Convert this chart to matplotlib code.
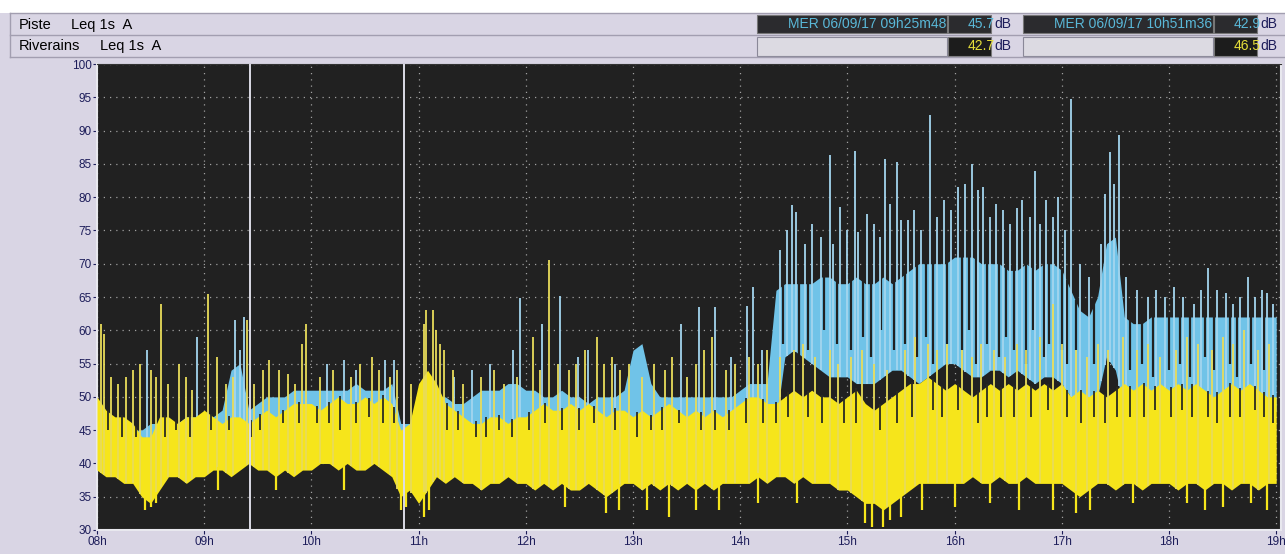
import numpy as np
import matplotlib.pyplot as plt
import matplotlib.patches as patches

# ---------- data (Leq 1s A, dB) ----------
# 5-minute envelope points from 08:00 to 19:00 (133 points)
# "Riverains" (yellow): bottom and top of the dense band
riv_lo = [39, 38, 38, 37, 37, 35, 34, 36, 38, 38, 37, 38,
          38, 39, 39, 38, 39, 40, 39, 39, 38, 39, 38, 39,
          39, 40, 40, 39, 40, 39, 39, 40, 39, 38, 35, 36,
          34, 36, 38, 37, 38, 37, 37, 36, 37, 37, 38, 37,
          37, 36, 37, 36, 37, 36, 36, 37, 36, 35, 36, 37,
          37, 36, 37, 36, 37, 36, 37, 36, 37, 36, 37, 37,
          37, 37, 38, 37, 38, 38, 37, 38, 37, 37, 37, 36,
          36, 35, 34, 34, 33, 34, 35, 36, 37, 37, 37, 37,
          37, 37, 38, 37, 37, 38, 37, 37, 38, 37, 37, 37,
          37, 36, 35, 36, 37, 37, 36, 37, 37, 36, 37, 37,
          37, 36, 37, 37, 36, 37, 37, 36, 37, 37, 36, 37, 37]
riv_hi = [50, 48, 47, 47, 46, 44, 44, 47, 47, 46, 47, 47,
          48, 47, 46, 47, 47, 46, 47, 48, 47, 48, 49, 49,
          49, 48, 49, 50, 49, 49, 50, 49, 50, 49, 45, 46,
          52, 54, 52, 49, 48, 47, 46, 46, 47, 47, 46, 47,
          47, 48, 49, 48, 48, 49, 48, 49, 48, 47, 48, 48,
          47, 48, 47, 48, 49, 48, 47, 48, 47, 48, 47, 48,
          49, 50, 50, 49, 49, 50, 51, 50, 51, 50, 50, 49,
          50, 51, 49, 48, 49, 50, 51, 52, 52, 53, 52, 51,
          52, 51, 50, 51, 52, 51, 52, 51, 52, 51, 52, 51,
          52, 50, 51, 50, 51, 50, 51, 52, 51, 52, 51, 52,
          51, 52, 51, 52, 51, 50, 51, 52, 51, 52, 51, 50, 50]
# "Piste" (cyan)
pis_lo = [40] * 72 + \
         [40, 40, 40, 40, 46, 56, 57, 56, 55, 54, 53, 53,
          53, 52, 52, 52, 53, 54, 54, 53, 52, 53, 54, 55,
          55, 54, 53, 53, 54, 54, 53, 54, 53, 52, 53, 53,
          52, 50, 48, 48, 50, 56, 54, 48, 48, 48, 48, 48,
          48, 48, 48, 48, 48, 48, 48, 48, 48, 48, 48, 48, 48]
pis_hi = [47, 46, 46, 46, 45, 45, 46, 46, 46, 46, 47, 47,
          47, 47, 48, 54, 55, 48, 49, 50, 50, 50, 51, 51,
          51, 51, 51, 51, 51, 52, 51, 51, 51, 52, 46, 46,
          48, 50, 50, 50, 49, 49, 50, 51, 51, 51, 52, 52,
          51, 51, 50, 50, 51, 50, 50, 49, 50, 50, 50, 51,
          57, 58, 52, 50, 50, 50, 50, 50, 50, 50, 50, 50,
          51, 52, 52, 52, 66, 67, 67, 67, 67, 68, 68, 67,
          67, 68, 67, 67, 68, 67, 68, 69, 70, 70, 70, 70,
          71, 71, 71, 70, 70, 70, 69, 69, 70, 69, 70, 70,
          69, 66, 63, 62, 65, 73, 74, 62, 61, 61, 62, 62,
          62, 62, 62, 62, 62, 62, 62, 62, 62, 62, 62, 62, 62]

# isolated peaks (time, level)
riv_peak_t = ["08:02", "08:04", "08:08", "08:12", "08:16", "08:20", "08:24", "08:30", "08:33", "08:36",
              "08:40", "08:46", "08:50", "08:53", "09:02", "09:07", "09:12", "09:16", "09:24", "09:28",
              "09:33", "09:36", "09:42", "09:47", "09:51", "09:55", "09:57", "10:05", "10:12", "10:22",
              "10:27", "10:34", "10:38", "10:44", "10:48", "10:56", "11:03", "11:04", "11:08", "11:10",
              "11:12", "11:14", "11:19", "11:25", "11:35", "11:42", "11:48", "11:55", "12:04", "12:08",
              "12:13", "12:18", "12:24", "12:28", "12:33", "12:40", "12:44", "12:48", "12:53", "12:58",
              "13:05", "13:12", "13:18", "13:22", "13:30", "13:35", "13:40", "13:44", "13:52", "13:57",
              "14:05", "14:10", "14:15", "14:22", "14:30", "14:35", "14:42", "14:50", "14:55", "15:02",
              "15:08", "15:15", "15:22", "15:32", "15:38", "15:45", "15:50", "15:56", "16:04", "16:10",
              "16:15", "16:22", "16:28", "16:35", "16:40", "16:48", "16:55", "17:00", "17:08", "17:14",
              "17:20", "17:26", "17:34", "17:42", "17:48", "17:55", "18:04", "18:10", "18:16", "18:24",
              "18:30", "18:36", "18:42", "18:50", "18:56"]
riv_peak_v = [61, 59.5, 53, 52, 53, 54, 55, 54, 53, 64,
              52, 55, 53, 51, 65.5, 56, 52, 53, 61.5, 52,
              54, 55.5, 54, 53.5, 52, 58, 61, 53, 54, 53,
              55, 56, 54, 53, 54, 52, 61, 63, 63, 60,
              58, 57, 54, 52, 53, 54, 52, 53, 59, 54,
              70.5, 55, 54, 55, 57, 59, 55, 56, 54, 55,
              53, 55, 54, 56, 53, 55, 57, 59, 54, 55,
              56, 55, 57, 56, 57, 58, 56, 57, 55, 56,
              57, 55, 54, 57, 59, 58, 57, 58, 57, 56,
              58, 57, 56, 58, 57, 59, 64, 58, 57, 56,
              58, 57, 59, 57, 58, 56, 57, 59, 58, 57,
              59, 58, 60, 57, 58]
# isolated low points of the yellow series
riv_dip_t = ["08:27", "08:30", "08:33", "09:08", "09:40", "10:18", "10:50", "10:53", "11:03", "11:06",
             "12:22", "12:45", "12:52", "13:08", "13:20", "13:35", "13:48", "14:10", "14:32", "15:10",
             "15:14", "15:20", "15:24", "15:30", "15:42", "16:00", "16:20", "16:36", "16:55", "17:08",
             "17:16", "17:40", "18:10", "18:20", "18:30", "18:46", "18:55"]
riv_dip_v = [33, 33.5, 34, 36, 36, 36, 33, 33.5, 32, 33,
             33.5, 32.5, 33, 33, 32, 33, 33, 34, 34, 31,
             30.5, 30.5, 31.5, 32, 33, 33.5, 34, 33, 33, 32.5,
             33, 34, 34, 33, 33.5, 34, 33]
# short drops at the top of the yellow band (level it fell to)
riv_drop_t = ["08:06", "08:14", "08:22", "08:38", "08:44", "08:52", "09:04", "09:14", "09:26", "09:31",
              "09:44", "09:53", "10:03", "10:10", "10:16", "10:25", "10:32", "10:40", "10:46", "11:16",
              "11:22", "11:32", "11:38", "11:45", "11:52", "12:02", "12:11", "12:20", "12:30", "12:38",
              "12:50", "13:02", "13:10", "13:16", "13:26", "13:38", "13:46", "13:54", "14:03", "14:13",
              "14:20", "14:27", "14:38", "14:46", "14:58", "15:05", "15:18", "15:28", "15:36", "15:48",
              "15:53", "16:02", "16:13", "16:18", "16:26", "16:33", "16:43", "16:52", "17:03", "17:11",
              "17:18", "17:24", "17:31", "17:38", "17:46", "17:52", "18:01", "18:07", "18:13", "18:22",
              "18:27", "18:34", "18:40", "18:48", "18:53", "18:58"]
riv_drop_v = [45, 44, 45, 44, 45, 44, 45, 45, 44, 45,
              46, 46, 46, 46, 45, 46, 47, 46, 46, 45,
              45, 44, 44, 45, 44, 45, 46, 45, 45, 46,
              45, 44, 45, 45, 46, 45, 45, 45, 46, 46,
              46, 47, 47, 46, 46, 46, 45, 46, 47, 48,
              47, 48, 46, 47, 47, 47, 47, 48, 47, 46,
              47, 46, 47, 47, 47, 48, 47, 48, 47, 47,
              46, 47, 47, 48, 47, 46]

pis_peak_t = ["08:28", "08:56", "09:17", "09:20", "09:22", "10:09", "10:18", "10:25", "10:41", "10:46",
              "11:20", "11:30", "11:40", "11:53", "11:57", "12:09", "12:19", "12:29", "12:35", "12:50",
              "13:27", "13:37", "13:46", "13:55", "14:04", "14:07", "14:12", "14:22", "14:26", "14:29",
              "14:31", "14:36", "14:40", "14:45", "14:50", "14:52", "14:56", "15:00", "15:04", "15:06",
              "15:11", "15:15", "15:18", "15:21", "15:24", "15:28", "15:30", "15:34", "15:37", "15:41",
              "15:46", "15:50", "15:54", "15:58", "16:02", "16:06", "16:10", "16:13", "16:16", "16:20",
              "16:23", "16:27", "16:31", "16:35", "16:38", "16:42", "16:45", "16:48", "16:51", "16:55",
              "16:58", "17:02", "17:05", "17:10", "17:15", "17:22", "17:24", "17:27", "17:29", "17:32",
              "17:36", "17:42", "17:48", "17:53", "17:58", "18:03", "18:08", "18:14", "18:18", "18:22",
              "18:27", "18:32", "18:36", "18:40", "18:44", "18:48", "18:52", "18:55", "18:58"]
pis_peak_v = [57, 59, 61.5, 57, 62, 55, 55.5, 54, 55.5, 55.5,
              53, 54, 55, 57, 64.8, 61, 65.2, 56, 57, 55,
              61, 63.5, 63.5, 56, 63.7, 66.5, 57, 72, 75, 78.8,
              77.8, 73, 76, 74, 86.3, 73, 78.5, 75, 87, 74.7,
              77.5, 76, 74, 85.7, 79, 85.3, 76.5, 76.5, 78, 75,
              92.3, 77, 79.5, 78, 81.5, 82, 85, 81, 81.5, 77,
              79, 78, 76, 78.3, 79.5, 77, 84, 76, 79.5, 77,
              80, 75, 94.8, 70, 68, 73, 80.5, 86.8, 82, 89.4,
              68, 66, 65, 66, 65, 66.5, 65, 64, 66, 69.3,
              66, 65.6, 64, 65, 68, 65, 66, 65.6, 64]
# short drops inside the cyan band
pis_drop_t = ["14:24", "14:33", "14:38", "14:47", "14:54", "15:02", "15:09", "15:13", "15:19", "15:26",
              "15:32", "15:39", "15:44", "15:48", "15:56", "16:04", "16:08", "16:12", "16:18", "16:25",
              "16:29", "16:33", "16:40", "16:44", "16:50", "16:53", "17:00", "17:03", "17:08", "17:18",
              "17:38", "17:45", "17:51", "18:00", "18:06", "18:12", "18:20", "18:25", "18:34", "18:38",
              "18:46", "18:53"]
pis_drop_v = [58, 56, 57, 60, 58, 57, 59, 56, 60, 57,
              58, 56, 59, 55, 58, 57, 60, 55, 58, 56,
              59, 57, 55, 60, 56, 58, 57, 55, 57, 55,
              54, 55, 53, 54, 55, 53, 56, 54, 55, 53,
              55, 54]

# cursors
cursor_labels = ["MER 06/09/17 09h25m48", "MER 06/09/17 10h51m36"]
cursor_t = ["09:25:48", "10:51:36"]
cursor_piste = ["45.7", "42.9"]
cursor_riv = ["42.7", "46.5"]

hour_labels = ["08h", "09h", "10h", "11h", "12h", "13h", "14h", "15h", "16h", "17h", "18h", "19h"]

# ---------- style ----------
BG = "#d9d5e4"
PLOT_BG = "#212121"
YELLOW = "#f6e51b"
CYAN = "#70c3e8"
NAVY = "#1d1d5a"
FONT = ["Liberation Sans Narrow", "Liberation Sans", "DejaVu Sans"]
plt.rcParams['font.family'] = FONT


def hours(s):
    parts = [int(p) for p in s.split(":")]
    while len(parts) < 3:
        parts.append(0)
    return parts[0] + parts[1] / 60 + parts[2] / 3600


times = 8 + np.arange(len(riv_lo)) / 12

fig = plt.figure(figsize=(12.85, 5.54), dpi=100)
fig.patch.set_facecolor(BG)

# ----- header (pixel coordinates) -----
hax = fig.add_axes([0, 0, 1, 1])
hax.set_xlim(0, 1285)
hax.set_ylim(554, 0)
hax.axis('off')
hax.add_patch(patches.Rectangle((0, 0), 1285, 13, facecolor='white', edgecolor='none'))
for yline in [13, 35, 57]:
    hax.plot([10, 1285], [yline, yline], color='#a29eb0', lw=1)
hax.plot([10, 10], [13, 57], color='#a29eb0', lw=1)

hax.text(19, 25, "Piste", fontsize=10.5, va='center', ha='left', color='black')
hax.text(71, 25, "Leq 1s  A", fontsize=10.5, va='center', ha='left', color='black')
hax.text(19, 46, "Riverains", fontsize=10.5, va='center', ha='left', color='black')
hax.text(100, 46, "Leq 1s  A", fontsize=10.5, va='center', ha='left', color='black')

box_x = [757, 1023]
for i in range(2):
    x0 = box_x[i]
    # row 1 : cursor time + Piste value
    hax.add_patch(patches.Rectangle((x0, 15), 190, 18, facecolor='#2b2b2e', edgecolor='#777777', lw=0.8))
    hax.add_patch(patches.Rectangle((x0 + 191, 15), 43, 18, facecolor='#2b2b2e', edgecolor='#777777', lw=0.8))
    hax.text(x0 + 189, 24.5, cursor_labels[i], fontsize=10, color='#5ab8d8', va='center', ha='right')
    hax.text(x0 + 238, 24.5, cursor_piste[i], fontsize=10, color='#5ab8d8', va='center', ha='right')
    hax.text(x0 + 237, 24.5, "dB", fontsize=10, color=NAVY, va='center', ha='left')
    # row 2 : Riverains value
    hax.add_patch(patches.Rectangle((x0, 37), 190, 19, facecolor='#dcdae2', edgecolor='#8a8898', lw=0.8))
    hax.add_patch(patches.Rectangle((x0 + 191, 37), 43, 19, facecolor='#1c1c1c', edgecolor='#777777', lw=0.8))
    hax.text(x0 + 238, 46.5, cursor_riv[i], fontsize=10, color='#e6df3a', va='center', ha='right')
    hax.text(x0 + 237, 46.5, "dB", fontsize=10, color=NAVY, va='center', ha='left')

# ----- main plot -----
ax = fig.add_axes([97 / 1285, 24 / 554, 1184 / 1285, 466 / 554])
ax.set_facecolor(PLOT_BG)

# Piste (cyan) behind
ax.fill_between(times, pis_lo, pis_hi, color=CYAN, lw=0, zorder=2)
pd_t = np.array([hours(s) for s in pis_drop_t])
ax.vlines(pd_t, pis_drop_v, np.interp(pd_t, times, pis_hi) + 0.3, color=PLOT_BG, lw=1.6, zorder=2.1)
pk_t = np.array([hours(s) for s in pis_peak_t])
ax.vlines(pk_t, np.interp(pk_t, times, pis_lo), pis_peak_v, color='#a3d5ee', lw=1.3, zorder=2.2)

# Riverains (yellow) in front
ax.fill_between(times, riv_lo, riv_hi, color=YELLOW, lw=0, zorder=3)
rd_t = np.array([hours(s) for s in riv_drop_t])
rd_top = np.interp(rd_t, times, riv_hi) + 0.3
ax.vlines(rd_t, np.minimum(riv_drop_v, rd_top - 1.5), rd_top, color='#2a2a22', lw=1.3, zorder=3.1)
rk_t = np.array([hours(s) for s in riv_peak_t])
ax.vlines(rk_t, np.interp(rk_t, times, riv_lo), riv_peak_v, color='#e8dc5a', lw=1.3, zorder=3.2)
dp_t = np.array([hours(s) for s in riv_dip_t])
ax.vlines(dp_t, riv_dip_v, np.interp(dp_t, times, riv_lo) + 0.5, color=YELLOW, lw=1.6, zorder=3.2)

# cursor lines
for s in cursor_t:
    ax.axvline(hours(s), color='#dcdce6', lw=1.4, zorder=5)

ax.set_xlim(8, 8 + 1184 / 107.2)
ax.set_ylim(30, 100)
ax.set_yticks(np.arange(30, 101, 5))
ax.set_xticks(np.arange(8, 20))
ax.set_xticklabels(hour_labels)
ax.grid(True, color='#a0a0a0', linestyle=(0, (1, 4)), lw=0.9, zorder=1)
ax.tick_params(axis='both', colors=NAVY, labelsize=8.5, length=3, width=0.8)
ax.tick_params(axis='x', pad=1)
ax.tick_params(axis='y', pad=1)
for side in ['left', 'bottom', 'right']:
    ax.spines[side].set_color('#e8e8ee')
    ax.spines[side].set_linewidth(1.5)
ax.spines['top'].set_color('#333333')

fig.savefig("out.png", dpi=100, facecolor=BG)
